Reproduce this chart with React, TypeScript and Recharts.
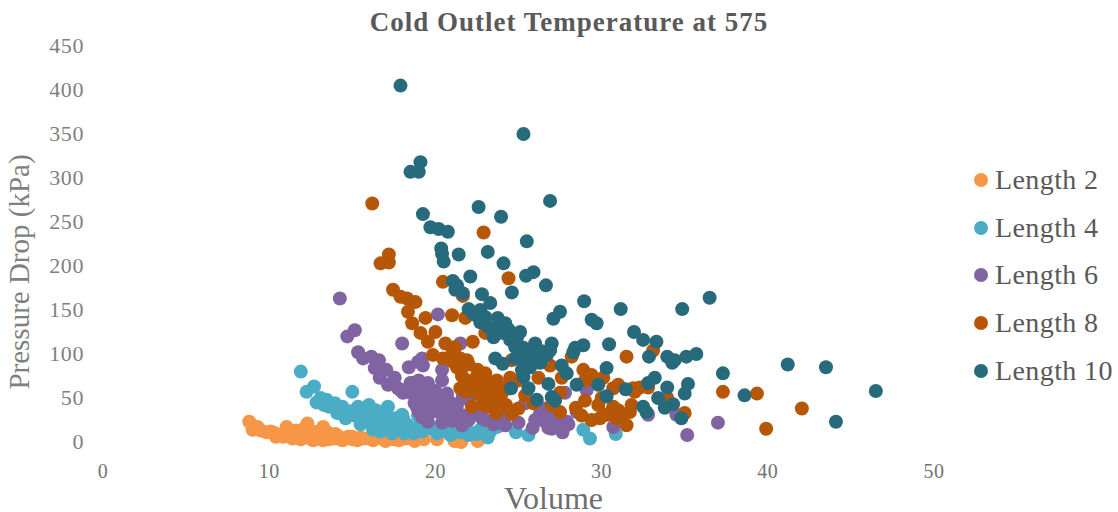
import React from "react";
import { ScatterChart, Scatter, XAxis, YAxis, Legend } from "recharts";

type P = [number, number];

const xTicks = [0, 10, 20, 30, 40, 50];
const yTicks = [0, 50, 100, 150, 200, 250, 300, 350, 400, 450];

const length2: P[] = [[8.8,23],[9.0,18],[9.0,14],[9.3,17],[9.5,13],[9.85,11],[10.1,12],[10.35,10],[10.6,7],[10.85,6],[11.05,17],[11.2,8],[11.4,6],[11.7,10],[11.8,5],[12.05,6],[12.3,21],[12.3,9],[12.5,4],[12.65,2],[12.9,8],[13.25,17],[13.25,2],[13.4,7],[13.6,3],[13.95,4],[14.2,6],[14.4,2],[14.75,6],[15,3],[15.3,2],[15.7,4],[16.25,2],[16.6,5],[17,1],[17.5,3],[18.2,4],[18.75,1],[19.3,3],[20.1,3],[21.15,1],[21.55,0],[22.55,1],[10.4,6],[10.9,9],[11.4,4],[11.9,3],[12.2,5],[12.8,4],[13.5,11],[13,12],[12,14],[11.6,13],[14,9],[14.5,3],[15,6],[15.5,5],[16,4],[16.9,3],[17.8,2],[12.6,12],[13.8,7]];

const length4: P[] = [[11.9,80],[12.7,63],[12.25,57],[15,57],[12.85,45],[13.1,50],[13.45,48],[13.95,44],[14.1,33],[14.4,40],[14.75,34],[15.35,40],[15.1,30],[16,42],[17.15,40],[16.9,35],[15.65,27],[16,33],[16.25,14],[16.5,23],[16.9,18],[17.25,25],[17.8,20],[18,31],[17.4,10],[18.15,10],[18.95,17],[18.05,27],[18.5,14],[18.95,30],[19.5,20],[20.1,10],[20.5,18],[20.9,8],[21.3,15],[21.9,14],[22.3,10],[22.7,14],[23.15,5],[23.3,12],[23.7,17],[24.85,11],[25.6,8],[28.9,14],[29.3,4],[30.85,9],[15.5,20],[15.9,25],[16.2,20],[16.7,12],[17,30],[17.3,15],[17.6,27],[18.3,20],[18.7,10],[19.2,12],[19.8,15],[20.3,13],[20.7,12],[21.5,11],[22,8],[22.5,9],[14.6,27],[14.9,35],[15.4,34],[16.4,36],[13.6,40],[13.3,42]];

const length6: P[] = [[14.25,163],[15.15,127],[14.7,120],[15.35,102],[15.65,95],[16.15,97],[16.6,93],[16.35,84],[17.05,82],[16.65,73],[17.55,73],[17.15,65],[17.75,61],[18.6,67],[18.05,56],[18.95,91],[18.4,85],[18,112],[18.75,44],[19,35],[20.15,145],[21.5,112],[19.2,95],[19.25,87],[20.4,82],[19.55,67],[20.4,70],[18.5,67],[17.9,59],[18.5,56],[19.1,50],[19.85,50],[18.9,39],[19.5,40],[20.4,42],[20.9,45],[21.05,34],[19.55,23],[20.4,22],[21,24],[21.6,19],[21.65,51],[22.55,31],[22.8,27],[24.2,19],[25,22],[23.75,48],[25.4,44],[27.8,56],[29.1,59],[28.5,34],[25.85,16],[26.3,33],[26.8,16],[27.65,11],[27.9,23],[26.5,24],[27.3,23],[26.9,30],[30.7,17],[32.8,31],[34.5,31],[37,22],[35.15,8],[19,60],[19.6,55],[20,58],[20.3,50],[20.7,55],[19.3,45],[19.9,35],[20.3,33],[20.7,30],[21.3,28],[21.7,30],[22,25],[19.2,28],[18.9,50],[19,70],[21.3,42],[22,48],[23,25],[23.5,20],[24,28],[26.5,38],[27,15],[27.3,17],[26,25],[28,20]];

const length8: P[] = [[16.2,271],[22.9,238],[24.4,186],[17.2,213],[16.7,203],[17.2,204],[20.45,182],[17.45,173],[17.9,165],[18.3,163],[18.8,159],[21.65,166],[18.35,148],[18.6,135],[19.4,141],[21,144],[21.8,141],[19.1,124],[19.55,114],[20,125],[20.6,112],[21.2,108],[22.25,114],[23,124],[19.85,99],[20.45,95],[21.05,91],[21.9,93],[21.5,82],[22.55,82],[21.9,70],[23.1,70],[23.7,70],[21.5,61],[21.8,57],[22.8,51],[22.2,40],[23.15,40],[23.65,33],[24.25,42],[24.6,32],[24.5,73],[24.6,93],[23.7,61],[25.4,53],[25.9,44],[26.2,73],[26.9,87],[27.6,73],[28.2,97],[27.5,56],[27,42],[27.5,34],[28.45,39],[28.9,82],[29.4,76],[30.1,73],[30.7,61],[31.9,61],[32.3,62],[29.8,42],[30.7,40],[29.4,25],[30.3,31],[30.9,27],[31.5,19],[31.8,42],[31.7,34],[31.5,97],[33.1,104],[33.95,50],[35,33],[37.3,57],[39.35,55],[42.05,38],[39.9,15],[21,100],[21.3,85],[22,88],[22.5,75],[22.9,65],[22.3,62],[21.6,75],[23,78],[23.3,60],[22.5,55],[23.5,48],[24,55],[24.3,62],[25,70],[24,40],[25,38],[22.9,42],[23.4,52],[21.5,95],[29,47],[30,50],[30.5,33],[31.2,30],[28.8,30],[29.9,27],[31,36],[32,57],[29,70],[29.7,68],[31,65],[32.8,62]];

const length10: P[] = [[17.9,405],[25.3,350],[19.1,318],[18.5,307],[19,307],[19.25,259],[22.6,267],[23.95,256],[26.9,274],[19.7,244],[20.2,242],[20.75,239],[20.35,220],[20.4,214],[20.5,205],[21.4,213],[23.15,216],[25.5,228],[24.1,203],[22.1,188],[25.45,189],[25.9,193],[26.65,178],[21.05,183],[21.3,178],[21.2,173],[21.65,169],[22.8,168],[24.6,170],[28.95,160],[31.15,151],[34.85,151],[36.5,164],[27.5,148],[27.1,140],[29.4,139],[29.7,135],[31.95,125],[32.5,116],[33.3,114],[30.45,111],[28.9,110],[28.4,107],[28.3,102],[33.95,97],[34.25,90],[34.4,93],[35.1,97],[35.7,100],[32.85,97],[37.3,78],[30.3,84],[33.2,73],[32.8,67],[35.2,66],[35,55],[33.95,62],[31.45,60],[29.8,65],[30.3,52],[28.5,65],[26.8,66],[27,51],[27.2,47],[26.1,48],[25.6,61],[24.55,61],[25.3,74],[25.2,82],[27.9,78],[27.6,87],[33.4,50],[34.3,43],[33.8,39],[32.5,40],[32.7,34],[34.8,27],[27,112],[26,112],[23.6,95],[24.05,89],[22,151],[22.7,150],[22.7,136],[23.3,158],[23.75,141],[24.2,135],[23.5,119],[24.05,124],[23.9,131],[24.5,116],[25.1,125],[24.8,108],[25.3,107],[25.4,93],[26.1,97],[26.3,90],[26.7,99],[41.2,88],[43.5,85],[46.5,58],[44.1,23],[38.6,53],[22.3,145],[23,142],[23.2,130],[24.4,128],[24.9,118],[25.6,102],[25.9,104],[26.4,103],[25,100],[24.8,95],[26.9,104],[25.7,85]];

const seriesList = [
  { name: "Length 2", color: "#F79646", points: length2 },
  { name: "Length 4", color: "#4BACC6", points: length4 },
  { name: "Length 6", color: "#8064A2", points: length6 },
  { name: "Length 8", color: "#B65708", points: length8 },
  { name: "Length 10", color: "#276A7C", points: length10 },
];

const serif = "'Liberation Serif', serif";

const legendContent = () => (
  <div style={{ paddingLeft: 40, fontFamily: serif }}>
    {seriesList.map((s) => (
      <div key={s.name} style={{ height: 47.7, display: "flex", alignItems: "center", whiteSpace: "nowrap" }}>
        <span style={{ width: 14, height: 14, borderRadius: 7, background: s.color, marginRight: 7, flex: "none" }} />
        <span style={{ fontSize: 28, letterSpacing: 0.4, color: "#595959" }}>{s.name}</span>
      </div>
    ))}
  </div>
);

const dot = (color: string) => (props: any) => (
  <circle cx={props.cx} cy={props.cy} r={7} fill={color} />
);

export default function App() {
  return (
    <div style={{ position: "absolute", left: 0, top: 0, width: 1118, height: 512, background: "#fff", overflow: "hidden" }}>
      <div style={{ position: "absolute", left: 0, width: 1138, top: 7, textAlign: "center", fontFamily: serif, fontWeight: 700, fontSize: 27, letterSpacing: 1, color: "#595959", zIndex: 2 }}>
        Cold Outlet Temperature at 575
      </div>
      <ScatterChart width={1118} height={512} margin={{ top: 46, right: 0, bottom: 0, left: 0 }}>
        <XAxis
          type="number"
          dataKey="x"
          domain={[0, 50]}
          ticks={xTicks}
          axisLine={false}
          tickLine={false}
          height={70}
          tickMargin={16}
          tick={{ fontSize: 20, letterSpacing: 0.5, fill: "#737373", fontFamily: serif }}
          label={{ value: "Volume", position: "insideBottom", offset: 0, dx: 35, dy: -3, fontSize: 32, fill: "#6E6E6E", fontFamily: serif }}
        />
        <YAxis
          type="number"
          dataKey="y"
          domain={[0, 450]}
          ticks={yTicks}
          axisLine={false}
          tickLine={false}
          width={103}
          tickMargin={13}
          tick={{ fontSize: 22, letterSpacing: 0.6, dy: -1, fill: "#7F7F7F", fontFamily: serif }}
          label={{ value: "Pressure Drop (kPa)", angle: -90, position: "insideLeft", textAnchor: "middle", dx: 14, dy: 28, fontSize: 29, fill: "#7F7F7F", fontFamily: serif }}
        />
        <Legend
          layout="vertical"
          align="right"
          verticalAlign="top"
          content={legendContent}
          wrapperStyle={{ width: 184, right: 0, top: 156 }}
        />
        {seriesList.map((s) => (
          <Scatter
            key={s.name}
            name={s.name}
            data={s.points.map(([x, y]) => ({ x, y }))}
            fill={s.color}
            shape={dot(s.color)}
            isAnimationActive={false}
          />
        ))}
      </ScatterChart>
    </div>
  );
}
